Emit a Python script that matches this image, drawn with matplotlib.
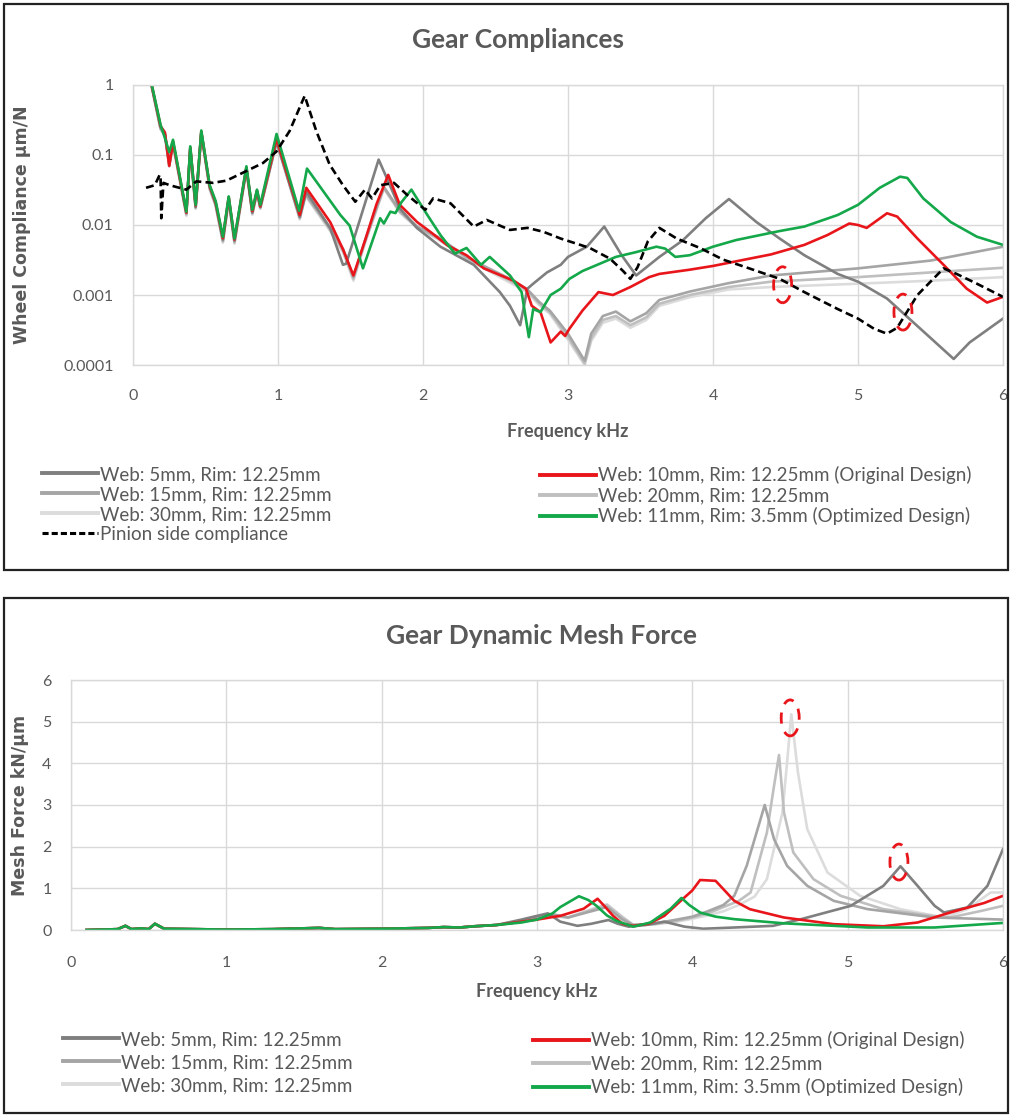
import numpy as np
import matplotlib.pyplot as plt
from matplotlib.patches import Rectangle, Ellipse
from matplotlib.lines import Line2D
from matplotlib.transforms import ScaledTranslation
from matplotlib.ticker import FixedLocator, NullLocator

# ---------------- data: wheel compliance (um/N) vs frequency (kHz) ----------------
# shared low frequency grid (under 1 kHz all wheel curves sit on top of each other)
tc_low_f = [0.13, 0.19, 0.22, 0.25, 0.276, 0.368, 0.395, 0.432, 0.471, 0.529, 0.57,
            0.62, 0.66, 0.70, 0.782, 0.823, 0.855, 0.878, 0.99]

green_low = [1.0, 0.27, 0.175, 0.11, 0.165, 0.0155, 0.133, 0.0194, 0.224, 0.037, 0.022,
             0.0068, 0.0256, 0.0064, 0.069, 0.0165, 0.032, 0.0194, 0.20]
web5_low = [0.95, 0.25, 0.2, 0.075, 0.15, 0.015, 0.125, 0.018, 0.21, 0.035, 0.02,
            0.0062, 0.024, 0.006, 0.065, 0.015, 0.03, 0.018, 0.155]
red_low = [0.97, 0.26, 0.21, 0.07, 0.155, 0.015, 0.128, 0.019, 0.215, 0.036, 0.021,
           0.0065, 0.025, 0.0062, 0.066, 0.0158, 0.031, 0.0185, 0.17]
web15_low = [0.95, 0.24, 0.2, 0.072, 0.15, 0.0145, 0.125, 0.018, 0.21, 0.034, 0.02,
             0.006, 0.024, 0.0058, 0.064, 0.015, 0.03, 0.018, 0.16]
web20_low = [0.93, 0.24, 0.19, 0.07, 0.145, 0.014, 0.12, 0.0175, 0.205, 0.033, 0.019,
             0.0058, 0.023, 0.0056, 0.062, 0.0145, 0.029, 0.0175, 0.155]
web30_low = [0.92, 0.23, 0.19, 0.068, 0.14, 0.0135, 0.118, 0.017, 0.2, 0.032, 0.019,
             0.0056, 0.022, 0.0054, 0.06, 0.014, 0.028, 0.017, 0.15]

green_hi_f = [1.145, 1.20, 1.43, 1.494, 1.586, 1.705, 1.73, 1.775, 1.81, 1.85, 1.92, 2.03,
              2.12, 2.22, 2.30, 2.40, 2.46, 2.60, 2.68, 2.73, 2.76, 2.81, 2.88, 2.95, 3.01,
              3.10, 3.22, 3.33, 3.47, 3.61, 3.67, 3.74, 3.84, 4.0, 4.16, 4.46, 4.63, 4.86,
              5.0, 5.15, 5.29, 5.34, 5.45, 5.64, 5.82, 6.0]
green_hi = [0.016, 0.064, 0.0139, 0.0098, 0.0024, 0.0125, 0.0105, 0.0155, 0.0148, 0.021,
            0.032, 0.0139, 0.0072, 0.0039, 0.0047, 0.0027, 0.0035, 0.0019, 0.0011, 0.00025,
            0.00063, 0.00057, 0.001, 0.00123, 0.0017, 0.0022, 0.0028, 0.0035, 0.0041,
            0.0049, 0.0046, 0.0035, 0.0037, 0.0049, 0.0061, 0.0082, 0.0095, 0.0139, 0.0194,
            0.034, 0.049, 0.047, 0.024, 0.011, 0.0068, 0.0052]

red_hi_f = [1.15, 1.195, 1.36, 1.448, 1.52, 1.60, 1.68, 1.76, 1.84, 1.96, 2.05, 2.17, 2.30,
            2.42, 2.625, 2.71, 2.75, 2.81, 2.88, 2.95, 2.98, 3.01, 3.10, 3.21, 3.31, 3.43,
            3.56, 3.63, 3.84, 4.0, 4.25, 4.40, 4.63, 4.79, 4.94, 5.0, 5.06, 5.2, 5.27, 5.41,
            5.59, 5.75, 5.89, 6.0]
red_hi = [0.0139, 0.034, 0.011, 0.0045, 0.0019, 0.006, 0.02, 0.052, 0.0194, 0.011, 0.008,
          0.0051, 0.0037, 0.0024, 0.0016, 0.00123, 0.0007, 0.00057, 0.00021, 0.0003, 0.00026,
          0.00033, 0.0006, 0.0011, 0.001, 0.0013, 0.0018, 0.002, 0.0023, 0.0026, 0.0033,
          0.0038, 0.0052, 0.0072, 0.0105, 0.010, 0.0091, 0.0147, 0.0132, 0.0064, 0.0027,
          0.00123, 0.00078, 0.00094]

web5_hi_f = [1.15, 1.195, 1.36, 1.448, 1.47, 1.568, 1.694, 1.75, 1.84, 1.96, 2.12, 2.35,
             2.53, 2.60, 2.67, 2.72, 2.76, 2.855, 2.95, 3.0, 3.13, 3.25, 3.37, 3.47, 3.63,
             3.79, 3.95, 4.11, 4.30, 4.46, 4.63, 4.86, 5.0, 5.2, 5.43, 5.66, 5.77, 6.0]
web5_hi = [0.013, 0.03, 0.009, 0.0027, 0.0028, 0.0125, 0.086, 0.047, 0.0173, 0.009, 0.0049,
           0.0027, 0.0011, 0.0007, 0.00037, 0.00123, 0.00145, 0.0021, 0.0027, 0.0035, 0.0049,
           0.0095, 0.0037, 0.0019, 0.0035, 0.006, 0.0125, 0.0235, 0.011, 0.0064, 0.0037,
           0.002, 0.00155, 0.00089, 0.00033, 0.000122, 0.00021, 0.00046]

grey_hi_f = [1.15, 1.19, 1.36, 1.45, 1.52, 1.60, 1.73, 1.84, 1.96, 2.1, 2.3, 2.42, 2.6, 2.72,
             2.80, 2.874, 3.0, 3.115, 3.16, 3.24, 3.33, 3.43, 3.54, 3.63, 3.84, 4.11, 4.40,
             5.0, 5.5, 6.0]
web15_hi = [0.013, 0.028, 0.009, 0.0045, 0.0018, 0.006, 0.035, 0.016, 0.0095, 0.0068, 0.0035,
            0.0026, 0.0017, 0.0012, 0.0008, 0.0006, 0.00028, 0.000115, 0.00028, 0.0005,
            0.00058, 0.00042, 0.00055, 0.00085, 0.00112, 0.00148, 0.0019, 0.0024, 0.0031,
            0.0049]
web20_hi = [0.0125, 0.027, 0.0085, 0.0042, 0.0017, 0.0057, 0.034, 0.0155, 0.0092, 0.0065,
            0.0034, 0.0025, 0.0016, 0.00115, 0.00076, 0.00057, 0.00025, 0.000105, 0.00024,
            0.00044, 0.0005, 0.00037, 0.00048, 0.00075, 0.001, 0.0013, 0.00155, 0.0018,
            0.0021, 0.00245]
web30_hi = [0.012, 0.026, 0.0082, 0.004, 0.0016, 0.0055, 0.033, 0.015, 0.009, 0.0063,
            0.0033, 0.0024, 0.0015, 0.0011, 0.00072, 0.00054, 0.00023, 0.0001, 0.00022,
            0.0004, 0.00046, 0.00034, 0.00044, 0.0007, 0.00093, 0.0012, 0.0013, 0.00145,
            0.0016, 0.0018]

pinion_f = [0.09, 0.15, 0.184, 0.19, 0.195, 0.21, 0.253, 0.368, 0.437, 0.55, 0.644, 0.782,
            0.897, 0.989, 1.08, 1.184, 1.264, 1.356, 1.448, 1.533, 1.60, 1.648, 1.706, 1.80,
            1.89, 2.016, 2.07, 2.19, 2.35, 2.44, 2.60, 2.72, 2.83, 2.95, 3.15, 3.29, 3.38,
            3.43, 3.48, 3.55, 3.63, 3.75, 3.91, 4.07, 4.25, 4.46, 4.63, 4.86, 5.0, 5.11,
            5.2, 5.27, 5.41, 5.59, 5.68, 5.82, 6.0]
pinion_c = [0.034, 0.037, 0.052, 0.05, 0.0125, 0.04, 0.037, 0.032, 0.042, 0.04, 0.043, 0.059,
            0.077, 0.112, 0.22, 0.70, 0.22, 0.073, 0.037, 0.0215, 0.032, 0.024, 0.037, 0.04,
            0.027, 0.0165, 0.024, 0.0204, 0.0095, 0.0118, 0.0085, 0.0091, 0.008, 0.0064,
            0.0047, 0.0033, 0.0022, 0.0017, 0.0025, 0.0058, 0.0091, 0.0064, 0.0047, 0.0032,
            0.0024, 0.0017, 0.0011, 0.00063, 0.00046, 0.00033, 0.00028, 0.00034, 0.001,
            0.0024, 0.002, 0.00145, 0.00094]

# ---------------- data: dynamic mesh force (kN/um) vs frequency (kHz) ----------------
mf_low_f = [0.1, 0.3, 0.35, 0.39, 0.45, 0.5, 0.54, 0.6, 0.8, 1.0, 1.3, 1.6, 1.7, 2.0, 2.3,
            2.4, 2.5, 2.6, 2.74]
mf_low_v = [0.0, 0.02, 0.1, 0.02, 0.04, 0.02, 0.15, 0.03, 0.02, 0.01, 0.02, 0.05, 0.02, 0.03,
            0.05, 0.07, 0.06, 0.09, 0.12]

mf_green_f = [2.9, 3.0, 3.1, 3.15, 3.27, 3.33, 3.38, 3.45, 3.51, 3.62, 3.73, 3.86, 3.93, 3.98,
              4.05, 4.15, 4.27, 4.59, 5.13, 5.56, 6.0]
mf_green = [0.18, 0.25, 0.4, 0.55, 0.81, 0.72, 0.59, 0.35, 0.22, 0.08, 0.18, 0.51, 0.77, 0.6,
            0.42, 0.32, 0.26, 0.16, 0.06, 0.06, 0.17]

mf_red_f = [2.9, 3.0, 3.15, 3.30, 3.39, 3.44, 3.49, 3.55, 3.62, 3.72, 3.82, 3.94, 4.0, 4.05,
            4.15, 4.2, 4.27, 4.37, 4.59, 4.91, 5.23, 5.45, 5.66, 5.88, 6.0]
mf_red = [0.2, 0.25, 0.34, 0.51, 0.75, 0.55, 0.34, 0.15, 0.1, 0.15, 0.34, 0.75, 0.95, 1.2,
          1.18, 0.98, 0.70, 0.50, 0.30, 0.14, 0.09, 0.18, 0.42, 0.65, 0.82]

mf_web5_f = [2.9, 3.07, 3.15, 3.26, 3.35, 3.46, 3.52, 3.59, 3.7, 3.82, 3.95, 4.07, 4.27, 4.52,
             4.70, 4.94, 5.02, 5.23, 5.34, 5.45, 5.56, 5.62, 5.77, 5.90, 6.0]
mf_web5 = [0.25, 0.4, 0.2, 0.1, 0.15, 0.24, 0.15, 0.08, 0.12, 0.2, 0.08, 0.03, 0.06, 0.1, 0.26,
           0.5, 0.58, 1.06, 1.53, 1.06, 0.58, 0.42, 0.54, 1.06, 1.94]

mf_web15_f = [2.9, 3.0, 3.1, 3.2, 3.35, 3.45, 3.55, 3.62, 3.75, 3.9, 4.0, 4.1, 4.2, 4.27, 4.35,
              4.42, 4.466, 4.526, 4.61, 4.74, 4.91, 5.13, 5.56, 6.0]
mf_web15 = [0.22, 0.3, 0.38, 0.3, 0.45, 0.55, 0.25, 0.12, 0.15, 0.25, 0.32, 0.45, 0.6, 0.82,
            1.54, 2.42, 3.0, 2.18, 1.54, 1.06, 0.70, 0.50, 0.30, 0.25]

mf_web20_f = [2.9, 3.0, 3.1, 3.2, 3.35, 3.45, 3.55, 3.62, 3.75, 3.9, 4.0, 4.1, 4.2, 4.3, 4.375,
              4.48, 4.526, 4.558, 4.59, 4.65, 4.78, 4.955, 5.23, 5.56, 5.66, 5.85, 6.0]
mf_web20 = [0.2, 0.28, 0.35, 0.3, 0.48, 0.6, 0.3, 0.12, 0.14, 0.22, 0.3, 0.4, 0.55, 0.7, 0.90,
            2.34, 3.46, 4.2, 2.82, 1.86, 1.22, 0.82, 0.50, 0.33, 0.30, 0.45, 0.58]

mf_web30_f = [2.9, 3.0, 3.1, 3.2, 3.35, 3.45, 3.55, 3.62, 3.75, 3.9, 4.0, 4.1, 4.2, 4.3, 4.40,
              4.48, 4.58, 4.61, 4.637, 4.68, 4.74, 4.87, 5.08, 5.34, 5.62, 5.77, 5.92, 6.0]
mf_web30 = [0.2, 0.27, 0.33, 0.3, 0.5, 0.62, 0.32, 0.12, 0.13, 0.2, 0.27, 0.35, 0.45, 0.6, 0.8,
            1.22, 2.82, 4.02, 5.18, 3.78, 2.42, 1.38, 0.82, 0.50, 0.30, 0.50, 0.90, 0.90]

labels = {
    "w5": "Web: 5mm, Rim: 12.25mm",
    "w10": "Web: 10mm, Rim: 12.25mm (Original Design)",
    "w15": "Web: 15mm, Rim: 12.25mm",
    "w20": "Web: 20mm, Rim: 12.25mm",
    "w30": "Web: 30mm, Rim: 12.25mm",
    "w11": "Web: 11mm, Rim: 3.5mm (Optimized Design)",
    "pin": "Pinion side compliance",
}

# ---------------- styling ----------------
C_TXT = "#595959"
C_GRID = "#d9d9d9"
colors = {"w5": "#7f7f7f", "w15": "#a5a5a5", "w20": "#bfbfbf", "w30": "#dcdcdc",
          "w10": "#e8161b", "w11": "#14a84a", "pin": "black"}
LW = 1.9
FONT = "Lato"

W, H = 1011, 1115
fig = plt.figure(figsize=(W / 100, H / 100), dpi=100)


def fx(px):
    return px / W


def fy(py):
    return 1 - py / H


# panel frames
for top, bot in [(4, 570), (598, 1113)]:
    fig.patches.append(Rectangle((fx(4), fy(bot)), fx(1008) - fx(4), (bot - top) / H,
                                 transform=fig.transFigure, fill=False, ec="#222222", lw=1.6))

ax1 = fig.add_axes([fx(133), fy(365), fx(1003) - fx(133), (365 - 85) / H])
ax2 = fig.add_axes([fx(71), fy(930), fx(1003) - fx(71), (930 - 680) / H])


def style_axes(ax):
    for s in ax.spines.values():
        s.set_color(C_GRID)
        s.set_linewidth(1.0)
    ax.grid(True, color=C_GRID, lw=1.0)
    ax.set_axisbelow(True)
    ax.tick_params(length=0, colors=C_TXT, labelsize=11.5)
    for lab in ax.get_xticklabels() + ax.get_yticklabels():
        lab.set_fontfamily(FONT)


def add_ring(ax, x, y):
    tr = fig.dpi_scale_trans + ScaledTranslation(x, y, ax.transData)
    ax.add_artist(Ellipse((0, 0), 0.18, 0.36, transform=tr, fill=False, ec="#e8161b",
                          lw=2.0, ls=(0, (4, 3.2)), zorder=6))


# ---------------- top panel ----------------
ax1.plot(tc_low_f + grey_hi_f, web30_low + web30_hi, color=colors["w30"], lw=LW)
ax1.plot(tc_low_f + grey_hi_f, web20_low + web20_hi, color=colors["w20"], lw=LW)
ax1.plot(tc_low_f + grey_hi_f, web15_low + web15_hi, color=colors["w15"], lw=LW)
ax1.plot(tc_low_f + web5_hi_f, web5_low + web5_hi, color=colors["w5"], lw=LW)
ax1.plot(tc_low_f + red_hi_f, red_low + red_hi, color=colors["w10"], lw=LW)
ax1.plot(tc_low_f + green_hi_f, green_low + green_hi, color=colors["w11"], lw=LW)
ax1.plot(pinion_f, pinion_c, color="black", lw=LW, ls=(0, (3, 1.6)))

ax1.set_yscale("log")
ax1.set_xlim(0, 6)
ax1.set_ylim(1e-4, 1)
ax1.yaxis.set_major_locator(FixedLocator([1e-4, 1e-3, 1e-2, 1e-1, 1]))
ax1.yaxis.set_minor_locator(NullLocator())
ax1.set_yticklabels(["0.0001", "0.001", "0.01", "0.1", "1"])
ax1.set_xticks(range(7))
style_axes(ax1)
ax1.tick_params(axis="x", pad=17)
ax1.tick_params(axis="y", pad=14)
add_ring(ax1, 4.48, 0.0014)
add_ring(ax1, 5.31, 0.00057)

fig.text(fx(518), fy(40), "Gear Compliances", ha="center", va="center", fontsize=19,
         fontweight="bold", color=C_TXT, family=FONT)
fig.text(fx(568), fy(432), "Frequency kHz", ha="center", va="center", fontsize=13,
         fontweight="bold", color=C_TXT, family=FONT)
fig.text(fx(22), fy(225), "Wheel Compliance µm/N", ha="center", va="center", rotation=90,
         fontsize=12.5, fontweight="bold", color=C_TXT, family="DejaVu Sans")

# ---------------- bottom panel ----------------
ax2.plot(mf_low_f + mf_web30_f, mf_low_v + mf_web30, color=colors["w30"], lw=LW)
ax2.plot(mf_low_f + mf_web20_f, mf_low_v + mf_web20, color=colors["w20"], lw=LW)
ax2.plot(mf_low_f + mf_web15_f, mf_low_v + mf_web15, color=colors["w15"], lw=LW)
ax2.plot(mf_low_f + mf_web5_f, mf_low_v + mf_web5, color=colors["w5"], lw=LW)
ax2.plot(mf_low_f + mf_red_f, mf_low_v + mf_red, color=colors["w10"], lw=LW)
ax2.plot(mf_low_f + mf_green_f, mf_low_v + mf_green, color=colors["w11"], lw=LW)

ax2.set_xlim(0, 6)
ax2.set_ylim(0, 6)
ax2.set_xticks(range(7))
ax2.set_yticks(range(7))
style_axes(ax2)
ax2.tick_params(axis="x", pad=19)
ax2.tick_params(axis="y", pad=14)
add_ring(ax2, 4.63, 5.09)
add_ring(ax2, 5.33, 1.63)

fig.text(fx(541), fy(636), "Gear Dynamic Mesh Force", ha="center", va="center", fontsize=19,
         fontweight="bold", color=C_TXT, family=FONT)
fig.text(fx(537), fy(992), "Frequency kHz", ha="center", va="center", fontsize=13,
         fontweight="bold", color=C_TXT, family=FONT)
fig.text(fx(20), fy(805), "Mesh Force kN/µm", ha="center", va="center", rotation=90,
         fontsize=12.5, fontweight="bold", color=C_TXT, family="DejaVu Sans")


# ---------------- legends ----------------
def handle(key):
    if key == "pin":
        return Line2D([], [], color="black", lw=2.2, ls=(0, (2, 1)), label=labels[key])
    return Line2D([], [], color=colors[key], lw=2.8, label=labels[key])


def legend(keys, x, y, spacing):
    fig.legend(handles=[handle(k) for k in keys], loc="upper left",
               bbox_to_anchor=(fx(x), fy(y)), frameon=False, handlelength=3.0,
               handletextpad=0.1, labelspacing=spacing, borderpad=0, borderaxespad=0,
               prop={"family": FONT, "size": 13.5}, labelcolor=C_TXT)


legend(["w5", "w15", "w30", "pin"], 42, 466, 0.16)
legend(["w10", "w20", "w11"], 540, 466, 0.16)
legend(["w5", "w15", "w30"], 63, 1031, 0.32)
legend(["w10", "w20", "w11"], 533, 1031, 0.32)

fig.savefig("out.png", dpi=100)
